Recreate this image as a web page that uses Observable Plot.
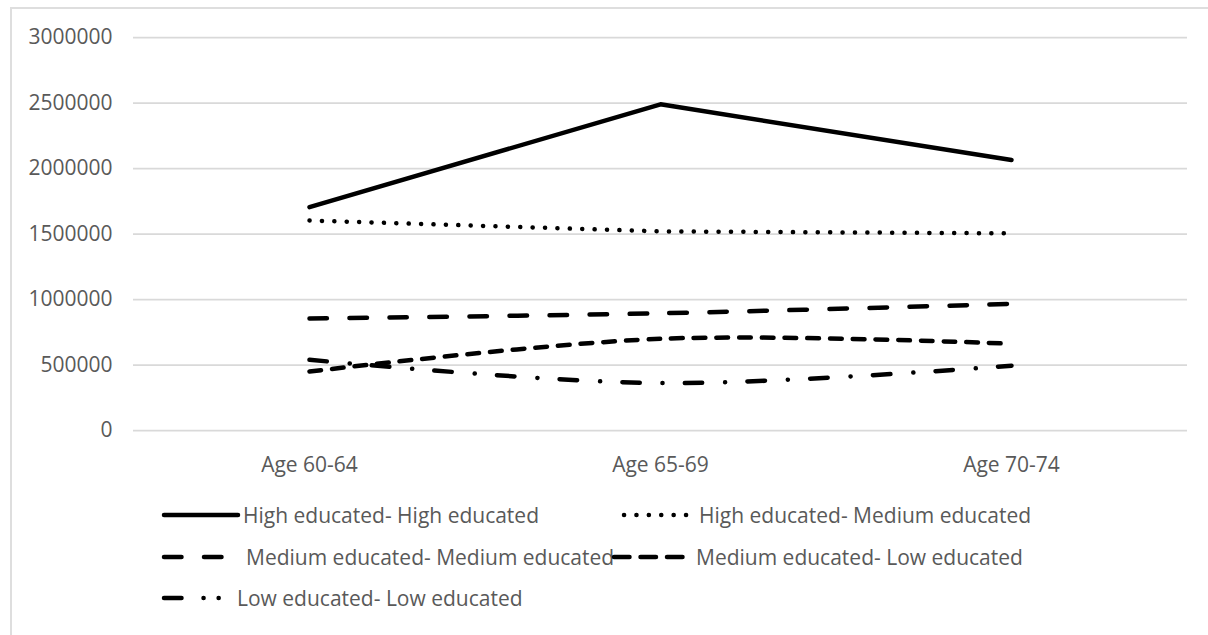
<!DOCTYPE html>
<html>
<head>
<meta charset="utf-8">
<script src="https://cdn.jsdelivr.net/npm/d3@7"></script>
<script src="https://cdn.jsdelivr.net/npm/@observablehq/plot@0.6"></script>
<style>
  html, body { margin: 0; padding: 0; background: #fff; }
  body { width: 1208px; height: 635px; position: relative; overflow: hidden; font-family: "Open Sans", sans-serif; }
  #frame { position: absolute; left: 10px; top: 7px; width: 1400px; height: 800px; border: 2px solid #dedede; box-sizing: border-box; }
  #chart { position: absolute; left: 0; top: 0; }
  .leg { position: absolute; height: 30px; display: flex; align-items: center; font-size: 21px; color: #595959; white-space: nowrap; }
  .leg svg { flex: none; }
</style>
</head>
<body>
<div id="frame"></div>
<div id="chart"></div>
<div id="legend"></div>
<script>
// ---- data ----
const categories = ["Age 60-64", "Age 65-69", "Age 70-74"];
const seriesNames = [
  "High educated- High educated",
  "High educated- Medium educated",
  "Medium educated- Medium educated",
  "Medium educated- Low educated",
  "Low educated- Low educated"
];
const highHigh     = [1705000, 2490000, 2065000];
const highMedium   = [1603000, 1520000, 1505000];
const mediumMedium = [855000, 895000, 967000];
const mediumLow    = [450000, 700000, 662000];
const lowLow       = [540000, 362000, 495000];
const yTicks = [0, 500000, 1000000, 1500000, 2000000, 2500000, 3000000];

// ---- styles ----
const seriesValues = [highHigh, highMedium, mediumMedium, mediumLow, lowLow];
const dashes = [null, "0.1 12.3", "17.5 22.5", "11.7 11", "17.5 22.9 0.1 22.2"];
const curves = ["linear", "linear", "catmull-rom", "catmull-rom", "catmull-rom"];

const marks = [
  Plot.ruleY(yTicks, {stroke: "#d9d9d9", strokeWidth: 1.75}),
  Plot.axisY({ticks: yTicks, tickSize: 0, tickPadding: 21, tickFormat: d => String(d), label: null}),
  Plot.axisX({tickSize: 0, tickPadding: 27, label: null})
];
seriesValues.forEach((vals, k) => {
  const rows = categories.map((c, i) => ({cat: c, v: vals[i]}));
  marks.push(Plot.line(rows, {
    x: "cat", y: "v",
    stroke: "black", strokeWidth: 4.5,
    strokeLinecap: "round", strokeLinejoin: "round",
    strokeDasharray: dashes[k] || undefined,
    curve: curves[k]
  }));
});

const plot = Plot.plot({
  width: 1208,
  height: 480,
  marginLeft: 133,
  marginRight: 21,
  marginTop: 37,
  marginBottom: 50,
  style: {background: "transparent", fontFamily: "'Open Sans', sans-serif", fontSize: "21px", color: "#595959", overflow: "visible"},
  x: {type: "point", domain: categories, padding: 0.5},
  y: {domain: [0, 3000000]},
  marks
});
document.getElementById("chart").appendChild(plot);

// ---- legend ----
const legendPos = [
  {x: 161, y: 515, w: 80},
  {x: 612, y: 515, w: 82},
  {x: 161, y: 557, w: 80},
  {x: 611, y: 557, w: 80},
  {x: 161, y: 598, w: 74}
];
const legendDash = [null, "0.1 12.3", "17.5 22.5", "15.5 11", "17.5 22 0.1 15 0.1 100"];
const legendStart = [3, 12, 3, 3, 3];
const legend = document.getElementById("legend");
seriesNames.forEach((name, k) => {
  const p = legendPos[k];
  const div = document.createElement("div");
  div.className = "leg";
  div.style.left = p.x + "px";
  div.style.top = (p.y - 15) + "px";
  const ns = "http://www.w3.org/2000/svg";
  const svg = document.createElementNS(ns, "svg");
  svg.setAttribute("width", p.w);
  svg.setAttribute("height", 12);
  const ln = document.createElementNS(ns, "line");
  ln.setAttribute("x1", legendStart[k]);
  ln.setAttribute("x2", p.w - 3);
  ln.setAttribute("y1", 6);
  ln.setAttribute("y2", 6);
  ln.setAttribute("stroke", "black");
  ln.setAttribute("stroke-width", 4.5);
  ln.setAttribute("stroke-linecap", "round");
  if (legendDash[k]) ln.setAttribute("stroke-dasharray", legendDash[k]);
  svg.appendChild(ln);
  div.appendChild(svg);
  const span = document.createElement("span");
  span.textContent = name;
  span.style.marginLeft = (k === 0 || k === 4 ? 2 : 5) + "px";
  div.appendChild(span);
  legend.appendChild(div);
});
</script>
</body>
</html>
